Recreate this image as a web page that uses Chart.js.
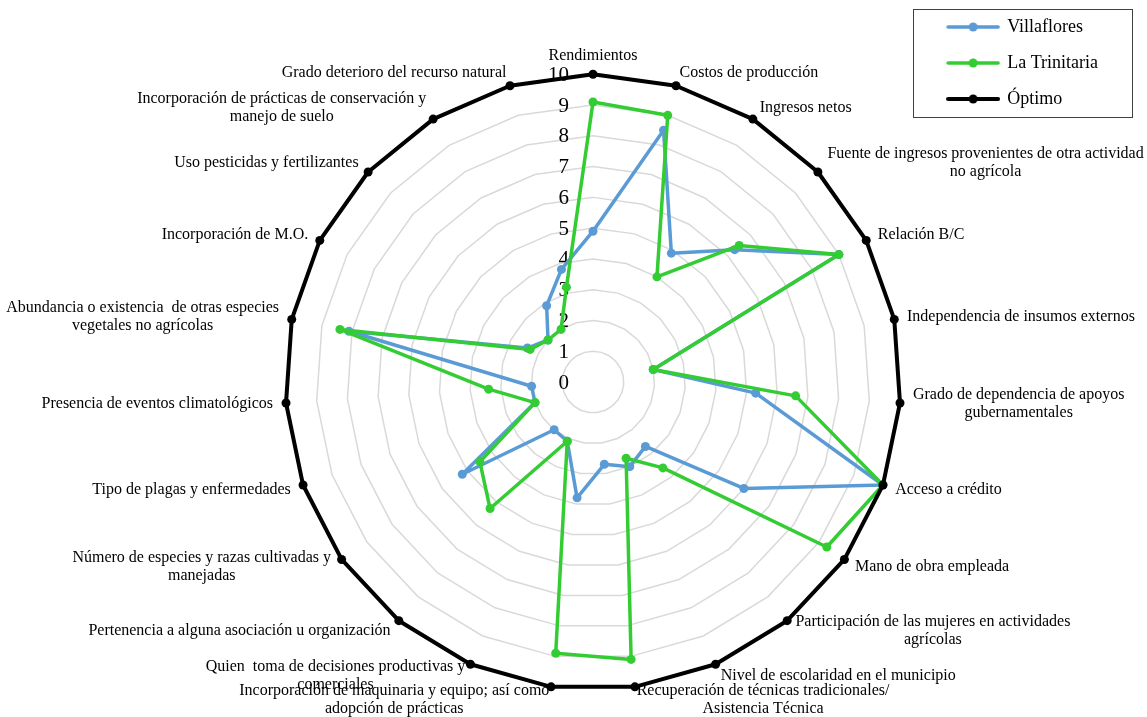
<!DOCTYPE html>
<html lang="es">
<head>
<meta charset="utf-8">
<title>Indicadores de sustentabilidad</title>
<script src="https://cdn.jsdelivr.net/npm/chart.js@4/dist/chart.umd.min.js"></script>
<style>
    html, body { margin: 0; padding: 0; background: #fff; }
    #wrap { width: 1147px; height: 717px; position: relative; }
</style>
</head>
<body>
<div id="wrap"><canvas id="radarChart"></canvas></div>
<script>
// Categories (clockwise from the top), line breaks as in the original
const categories = [
    'Rendimientos',
    'Costos de producción',
    'Ingresos netos',
    ['Fuente de ingresos provenientes de otra actividad', 'no agrícola'],
    'Relación B/C',
    'Independencia de insumos externos',
    ['Grado de dependencia de apoyos', 'gubernamentales'],
    'Acceso a crédito',
    'Mano de obra empleada',
    ['Participación de las mujeres en actividades', 'agrícolas'],
    'Nivel de escolaridad en el municipio',
    ['Recuperación de técnicas tradicionales/', 'Asistencia Técnica'],
    ['Incorporación de maquinaria y equipo; así como', 'adopción de prácticas'],
    ['Quien  toma de decisiones productivas y', 'comerciales'],
    'Pertenencia a alguna asociación u organización',
    ['Número de especies y razas cultivadas y', 'manejadas'],
    'Tipo de plagas y enfermedades',
    'Presencia de eventos climatológicos',
    ['Abundancia o existencia  de otras especies', 'vegetales no agrícolas'],
    'Incorporación de M.O.',
    'Uso pesticidas y fertilizantes',
    ['Incorporación de prácticas de conservación y', 'manejo de suelo'],
    'Grado deterioro del recurso natural'
];

const seriesNames = ['Villaflores', 'La Trinitaria', 'Óptimo'];

const villaflores  = [4.9, 8.5, 4.9, 6.3, 9.0, 2.0, 5.3, 10, 6.0, 2.7, 3.0, 2.7, 3.8, 2.1, 2.0, 5.2, 2.0, 2.0, 8.1, 2.4, 2.0, 2.9, 3.8];
const laTrinitaria = [9.1, 9.0, 4.0, 6.5, 9.0, 2.0, 6.6, 10, 9.3, 3.6, 2.7, 9.1, 8.9, 2.1, 5.3, 4.5, 2.0, 3.4, 8.4, 2.3, 2.0, 2.0, 3.2];
const optimo       = [10, 10, 10, 10, 10, 10, 10, 10, 10, 10, 10, 10, 10, 10, 10, 10, 10, 10, 10, 10, 10, 10, 10];

const tickValues = [0, 1, 2, 3, 4, 5, 6, 7, 8, 9, 10];

document.addEventListener('DOMContentLoaded', () => {
    const ctx = document.getElementById('radarChart').getContext('2d');
    const serif = '"Liberation Serif", "Times New Roman", serif';

    // Small line-with-dot image used as legend marker (like Excel's)
    function legendMarker(color, lineWidth) {
        const c = document.createElement('canvas');
        c.width = 54;
        c.height = 12;
        const g = c.getContext('2d');
        g.strokeStyle = color;
        g.fillStyle = color;
        g.lineWidth = lineWidth;
        g.lineCap = 'round';
        g.beginPath();
        g.moveTo(2, 6);
        g.lineTo(52, 6);
        g.stroke();
        g.beginPath();
        g.arc(27, 6, 4.5, 0, Math.PI * 2);
        g.fill();
        return c;
    }

    // Category labels drawn outside each spoke, Excel style (lines centred on each other)
    const categoryText = {
        id: 'categoryText',
        beforeDatasetsDraw(chart) {
            const r = chart.scales.r;
            const c = chart.ctx;
            const lineH = 18;
            c.save();
            c.font = '16px ' + serif;
            c.fillStyle = '#000';
            c.textAlign = 'center';
            c.textBaseline = 'middle';
            categories.forEach((label, i) => {
                const lines = Array.isArray(label) ? label : [label];
                const p = r.getPointPosition(i, r.drawingArea + 13);
                const dx = p.x - r.xCenter;
                const w = Math.max(...lines.map(l => c.measureText(l).width));
                const h = lines.length * lineH;
                let left, top;
                if (Math.abs(dx) < 1) {
                    left = p.x - w / 2;
                    top = p.y < r.yCenter ? p.y - h + 3 : p.y - 3;
                } else {
                    left = dx > 0 ? p.x : p.x - w;
                    top = p.y - h / 2;
                }
                lines.forEach((l, j) => c.fillText(l, left + w / 2, top + lineH / 2 + j * lineH));
            });
            c.restore();
        }
    };

    // Value labels along the top spoke, including the 0 at the centre
    const tickText = {
        id: 'tickText',
        beforeDatasetsDraw(chart) {
            const r = chart.scales.r;
            const c = chart.ctx;
            c.save();
            c.font = '21px ' + serif;
            c.fillStyle = '#000';
            c.textAlign = 'right';
            c.textBaseline = 'middle';
            tickValues.forEach(v => {
                const y = r.yCenter - r.getDistanceFromCenterForValue(v);
                c.fillText(String(v), r.xCenter - 24, y + 1);
            });
            c.restore();
        }
    };

    // Thin frame around the legend
    const legendFrame = {
        id: 'legendFrame',
        afterDraw(chart) {
            const lg = chart.legend;
            const pad = lg.options.labels.padding;
            const c = chart.ctx;
            const x0 = Math.round(lg.left + pad - 35) + 0.5;
            const x1 = Math.round(lg.right + 24) + 0.5;
            const y0 = Math.round(lg.top + pad - 9) + 0.5;
            const y1 = Math.round(lg.top + pad + seriesNames.length * 36 - pad + 9) + 0.5;
            c.save();
            c.strokeStyle = '#404040';
            c.lineWidth = 1;
            c.strokeRect(x0, y0, x1 - x0, y1 - y0);
            c.restore();
        }
    };

    const colors = ['#5b9bd5', '#33cc33', '#000000'];
    const widths = [3.5, 3.5, 4];
    const values = [villaflores, laTrinitaria, optimo];

    const datasets = seriesNames.map((name, i) => ({
        label: name,
        data: values[i],
        borderColor: colors[i],
        backgroundColor: colors[i],
        pointBackgroundColor: colors[i],
        pointBorderWidth: 0,
        pointRadius: 4.5,
        borderWidth: widths[i],
        borderJoinStyle: 'round',
        borderCapStyle: 'round',
        fill: false,
        clip: false,
        order: seriesNames.length - 1 - i // later series drawn on top
    }));

    new Chart(ctx, {
        type: 'radar',
        data: {
            labels: categories,
            datasets: datasets
        },
        options: {
            responsive: true,
            maintainAspectRatio: false,
            animation: false,
            events: [],
            layout: { padding: { right: 39 } },
            scales: {
                r: {
                    min: tickValues[0],
                    max: tickValues[tickValues.length - 1],
                    ticks: { stepSize: 1, display: false },
                    grid: { color: '#d9d9d9', lineWidth: 1.5, circular: false },
                    angleLines: { display: false },
                    pointLabels: { display: false },
                    afterFit: (scale) => {
                        // plot centre and radius as in the original figure
                        scale.xCenter = 593;
                        scale.yCenter = 382;
                        scale.drawingArea = 307.7;
                    }
                }
            },
            plugins: {
                tooltip: { enabled: false },
                legend: {
                    position: 'right',
                    align: 'start',
                    labels: {
                        color: '#000',
                        font: { family: serif, size: 18 },
                        usePointStyle: true,
                        pointStyleWidth: 50,
                        padding: 18,
                        generateLabels: (chart) => chart.data.datasets.map((ds, i) => ({
                            text: ds.label,
                            pointStyle: legendMarker(ds.borderColor, ds.borderWidth),
                            fillStyle: ds.borderColor,
                            strokeStyle: ds.borderColor,
                            lineWidth: 0,
                            fontColor: '#000',
                            hidden: false,
                            datasetIndex: i
                        }))
                    }
                }
            }
        },
        plugins: [categoryText, tickText, legendFrame]
    });
});
</script>
</body>
</html>
